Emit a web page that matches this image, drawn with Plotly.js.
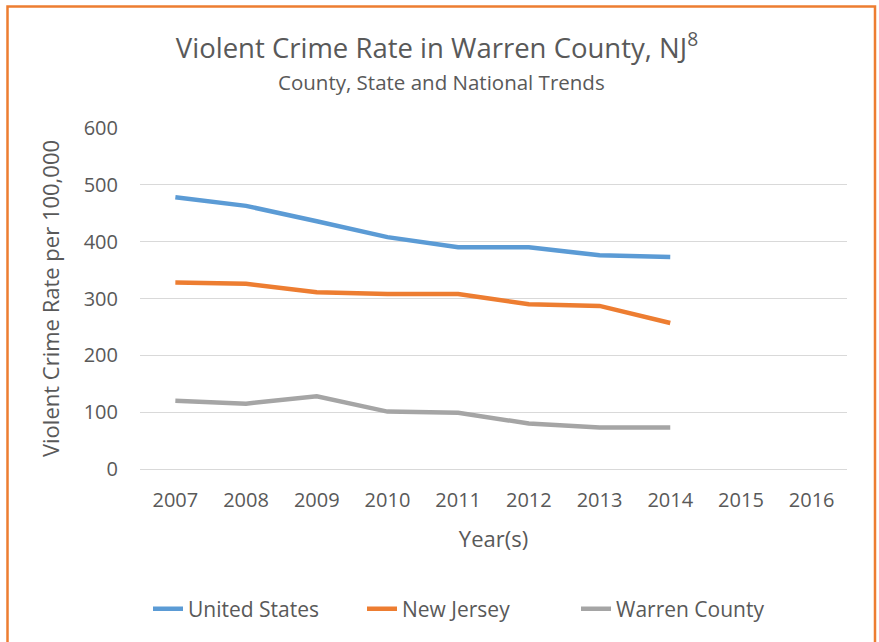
<!DOCTYPE html>
<html>
<head>
<meta charset="utf-8">
<script src="https://cdn.plot.ly/plotly-3.0.1.min.js"></script>
<style>
html,body{margin:0;padding:0;background:#fff;}
#chart{width:879px;height:642px;}
</style>
</head>
<body>
<div id="chart"></div>
<script>
const years = ["2007","2008","2009","2010","2011","2012","2013","2014","2015","2016"];
const unitedStates = [478, 463, 436, 408, 390, 390, 376, 373, null, null];
const newJersey = [328, 326, 311, 308, 308, 290, 287, 257, null, null];
const warrenCounty = [120, 115, 128, 101, 99, 80, 73, 73, null, null];
const yTicks = [0, 100, 200, 300, 400, 500, 600];

const FONT = "Open Sans, sans-serif";
const GRAY = "#595959";

const mk = (name, vals, color) => ({
  type: "scatter", mode: "lines", name: name, x: years, y: vals,
  line: {color: color, width: 4.5}, connectgaps: false, hoverinfo: "skip"
});

const data = [
  mk("United States", unitedStates, "#5B9BD5"),
  mk("New Jersey", newJersey, "#ED7D31"),
  mk("Warren County", warrenCounty, "#A5A5A5")
];

const L = 140, R = 32, T = 128, B = 173;
const PW = 879 - L - R, PH = 642 - T - B;
const px = v => (v - L) / PW;
const py = v => (642 - B - v) / PH;

const layout = {
  width: 879, height: 642,
  margin: {l: L, r: R, t: T, b: B, pad: 0},
  paper_bgcolor: "#fff", plot_bgcolor: "#fff",
  font: {family: FONT, color: GRAY, size: 20},
  title: {
    text: "Violent Crime Rate in Warren County, NJ<sup>8</sup>",
    font: {family: FONT, size: 27.5, color: GRAY},
    x: px(437), xanchor: "center", xref: "paper",
    y: 1 - 48 / 642, yanchor: "middle", yref: "container"
  },
  showlegend: true,
  legend: {
    orientation: "h", x: px(148), xanchor: "left", y: py(609), yanchor: "middle",
    font: {family: FONT, size: 21, color: GRAY}, itemwidth: 30,
    entrywidth: 169, entrywidthmode: "pixels", traceorder: "normal",
    bgcolor: "rgba(0,0,0,0)"
  },
  xaxis: {
    type: "category", categoryorder: "array", categoryarray: years,
    range: [-0.5, 9.5], showgrid: false, zeroline: false, showline: false,
    ticks: "", ticklabelstandoff: 17,
    tickfont: {family: FONT, size: 20, color: GRAY},
    title: {text: "Year(s)", font: {family: FONT, size: 22, color: GRAY}, standoff: 19},
    fixedrange: true
  },
  yaxis: {
    range: [0, 600], tickvals: yTicks, ticktext: yTicks.map(String),
    showgrid: true, gridcolor: "#D9D9D9", gridwidth: 1,
    zeroline: true, zerolinecolor: "#D9D9D9", zerolinewidth: 1,
    showline: false, ticks: "", ticklabelstandoff: 21,
    tickfont: {family: FONT, size: 20, color: GRAY},
    title: {text: "Violent Crime Rate per 100,000", font: {family: FONT, size: 22, color: GRAY}, standoff: 17},
    fixedrange: true
  },
  annotations: [{
    text: "County, State and National Trends", showarrow: false,
    xref: "paper", yref: "paper", x: px(441), y: py(82),
    xanchor: "center", yanchor: "middle",
    font: {family: FONT, size: 20.5, color: GRAY}
  }],
  shapes: [{
    type: "rect", xref: "paper", yref: "paper",
    x0: px(7.5), x1: px(875), y0: py(6.5), y1: py(700),
    line: {color: "#ED7D31", width: 2.5}, fillcolor: "rgba(0,0,0,0)", layer: "below"
  }]
};

Plotly.newPlot("chart", data, layout, {displayModeBar: false, staticPlot: true});
</script>
</body>
</html>
